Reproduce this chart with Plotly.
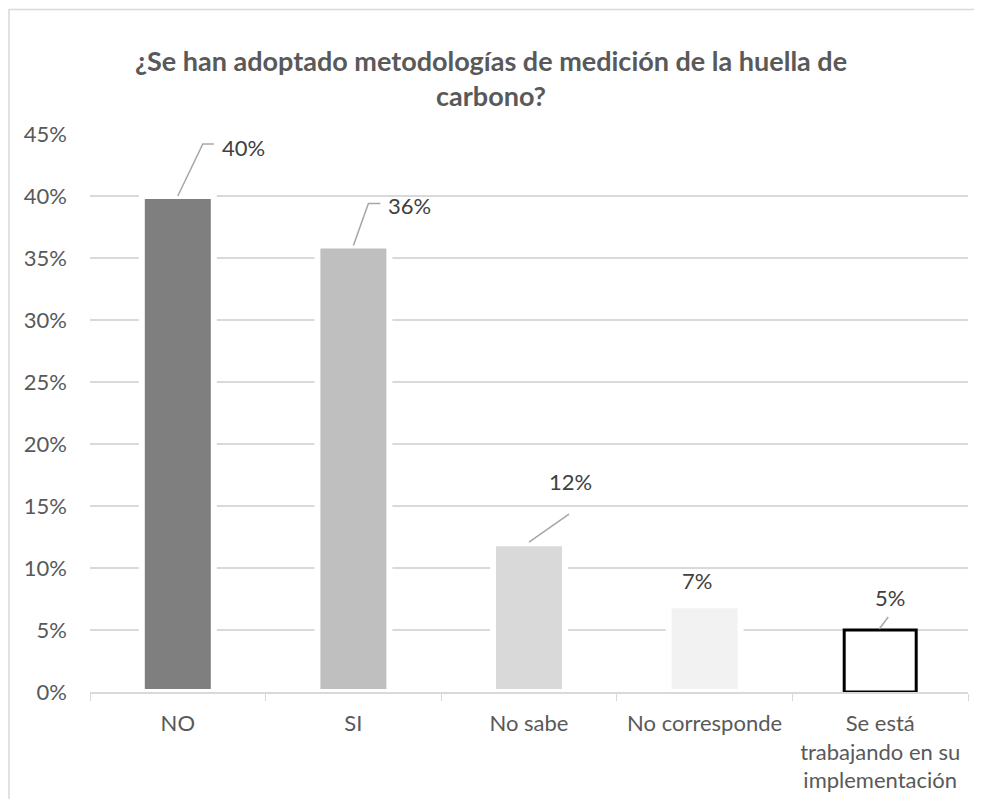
import plotly.graph_objects as go

CATEGORIES = [
    "NO",
    "SI",
    "No sabe",
    "No corresponde",
    "Se está<br>trabajando en su<br>implementación",
]
VALUES = [0.40, 0.36, 0.12, 0.07, 0.05]
LABELS = ["40%", "36%", "12%", "7%", "5%"]
Y_TICKS = [0, 0.05, 0.10, 0.15, 0.20, 0.25, 0.30, 0.35, 0.40, 0.45]

BAR_COLORS = ["#7f7f7f", "#bfbfbf", "#d9d9d9", "#f2f2f2", "#ffffff"]
EDGE_COLORS = ["#ffffff", "#ffffff", "#ffffff", "#ffffff", "#000000"]
EDGE_WIDTHS = [6, 6, 6, 6, 3]

# label offsets (pixels from the bar top) and leader line paths
LABEL_SHIFT = [(66, 49), (56, 40), (41, 62), (-8, 25), (10, 33)]
LEADERS = [
    "M0,0 L25,52 L36,52",
    "M0,0 L15,42 L27,42",
    "M0,1 L40,29",
    None,
    "M-1,1 L8,13",
]

FONT = "Lato, Open Sans, sans-serif"
GRID = "#d9d9d9"

fig = go.Figure()
fig.add_trace(
    go.Bar(
        x=CATEGORIES,
        y=VALUES,
        width=0.41,
        marker=dict(
            color=BAR_COLORS,
            line=dict(color=EDGE_COLORS, width=EDGE_WIDTHS),
        ),
        hoverinfo="skip",
    )
)

for cat, val, txt, (dx, dy), path in zip(CATEGORIES, VALUES, LABELS, LABEL_SHIFT, LEADERS):
    fig.add_annotation(
        x=cat,
        y=val,
        text=txt,
        showarrow=False,
        xshift=dx,
        yshift=dy,
        font=dict(family=FONT, size=22, color="#404040"),
    )
    if path:
        fig.add_shape(
            type="path",
            xref="x",
            yref="y",
            xsizemode="pixel",
            ysizemode="pixel",
            xanchor=cat,
            yanchor=val,
            path=path,
            line=dict(color="#a6a6a6", width=1.5),
        )

# outer chart border: only its left and top edges are in view
fig.add_shape(
    type="path",
    xref="paper",
    yref="paper",
    path="M-0.0923,-0.3 L-0.0923,1.223 L1.1,1.223",
    line=dict(color=GRID, width=1.5),
    layer="below",
)

fig.update_layout(
    width=966,
    height=791,
    margin=dict(l=82, r=6, t=126, b=105),
    paper_bgcolor="white",
    plot_bgcolor="white",
    showlegend=False,
    bargap=0.59,
    font=dict(family=FONT, size=22, color="#595959"),
    title=dict(
        text="<b>¿Se han adoptado metodologías de medición de la huella de<br>carbono?</b>",
        x=0.5,
        xref="container",
        y=0.92,
        yref="container",
        xanchor="center",
        yanchor="middle",
        font=dict(family=FONT, size=27, color="#595959"),
    ),
    xaxis=dict(
        showline=True,
        linecolor=GRID,
        linewidth=1.5,
        ticks="outside",
        tickson="boundaries",
        ticklen=7,
        tickcolor=GRID,
        showgrid=False,
        ticklabelstandoff=11,
        tickfont=dict(family=FONT, size=22, color="#595959"),
    ),
    yaxis=dict(
        range=[0, 0.45],
        tickvals=Y_TICKS,
        tickformat=".0%",
        showgrid=True,
        gridcolor=GRID,
        gridwidth=1.5,
        zeroline=False,
        showline=False,
        ticklabelstandoff=22,
        tickfont=dict(family=FONT, size=22, color="#595959"),
    ),
)

fig.write_html("out.html")
